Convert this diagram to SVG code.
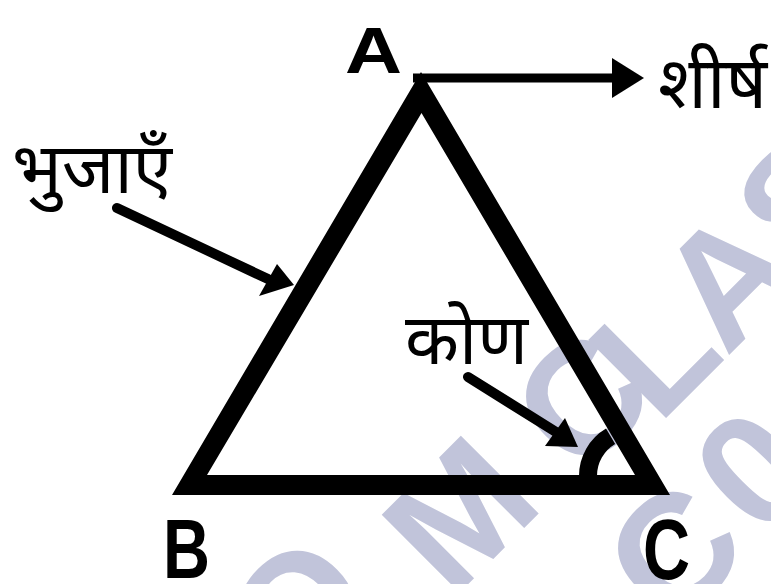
<svg xmlns="http://www.w3.org/2000/svg" width="771" height="584" viewBox="0 0 771 584">
<style>
.wm{font-family:"Liberation Sans",Arial,sans-serif;font-weight:bold;font-size:160px;fill:#c1c4da;text-anchor:middle}
.lat{font-family:"Liberation Sans",Arial,sans-serif;font-weight:bold;fill:#000}
.hin{font-family:"Noto Sans Devanagari","Noto Sans","Lohit Devanagari",sans-serif;fill:#000}
.ln{stroke:#000;fill:none}
</style>
<rect width="771" height="584" fill="#fff"/>
<g id="watermark">
<text class="wm" transform="translate(296,607) rotate(-45)" y="58">O</text>
<text class="wm" transform="translate(458,512) rotate(-45)" y="58">M</text>
<text class="wm" transform="translate(580,398) rotate(-45)" y="58">C</text>
<text class="wm" transform="translate(652,350) rotate(-45)" y="58">L</text>
<text class="wm" transform="translate(726,276) rotate(-45)" y="58">A</text>
<text class="wm" transform="translate(800,198) rotate(-45)" y="58">S</text>
<text class="wm" transform="translate(672,550) rotate(-45)" y="58">C</text>
<text class="wm" transform="translate(752,468) rotate(-45)" y="58">0</text>
</g>
<g id="triangle">
<path d="M421,72 L670,495 L172,495 Z M421.5,113 L207,475 L635,475 Z" fill="#000" fill-rule="evenodd"/>
<path class="ln" d="M588,476 A46,46 0 0 1 610.6,436.3" stroke-width="18"/>
</g>
<g id="label-A"><text class="lat" x="345" y="73" font-size="64" textLength="57" lengthAdjust="spacingAndGlyphs">A</text></g>
<g id="label-B"><text class="lat" x="163" y="578" font-size="84" textLength="47" lengthAdjust="spacingAndGlyphs">B</text></g>
<g id="label-C"><text class="lat" x="643" y="579" font-size="86" textLength="47" lengthAdjust="spacingAndGlyphs">C</text></g>
<g id="label-shirsh"><text class="hin" x="658" y="108" font-size="72">शीर्ष</text></g>
<g id="label-bhujayen"><text class="hin" x="12" y="193" font-size="70" textLength="160" lengthAdjust="spacingAndGlyphs">भुजाएँ</text></g>
<g id="label-kon"><text class="hin" x="405" y="364" font-size="70" textLength="123" lengthAdjust="spacingAndGlyphs">कोण</text></g>
<g id="connectors">
<line class="ln" x1="413" y1="78" x2="616" y2="78" stroke-width="9"/>
<polygon points="612,58 644,78 612,98" fill="#000"/>
<line class="ln" x1="117" y1="208" x2="268" y2="279" stroke-width="10" stroke-linecap="round"/>
<polygon points="277,264 294,285 259,296" fill="#000"/>
<line class="ln" x1="468" y1="377" x2="556" y2="432" stroke-width="10" stroke-linecap="round"/>
<polygon points="565,418 578,447 545,446" fill="#000"/>
</g>
</svg>
